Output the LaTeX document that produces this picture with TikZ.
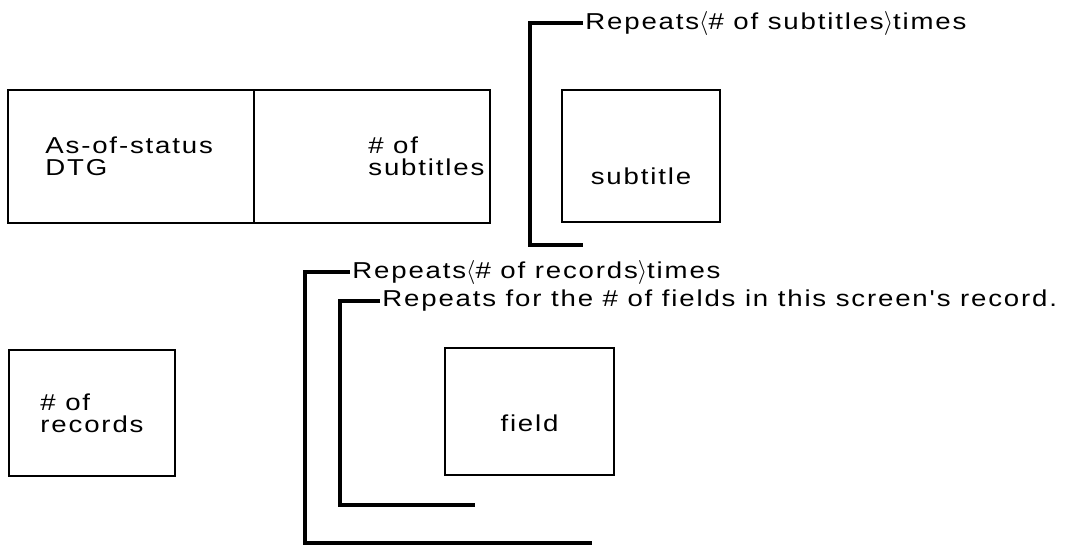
\documentclass[tikz,border=0pt]{standalone}
\usepackage{fontspec}
\usetikzlibrary{positioning}
\newfontfamily\repfont[FakeStretch=1.2,LetterSpace=8]{Liberation Sans}
\newcommand\repsize{\fontsize{11.5pt}{11pt}\selectfont}
\tikzset{
  cell/.style={draw,line width=1.3pt,inner sep=0pt,outer sep=0pt,anchor=north west},
  txt/.style={font=\repfont\repsize,align=left,inner sep=0pt},
  rep/.style={font=\repfont\repsize,inner sep=1pt,anchor=west},
  brk/.style={line width=1.6pt}
}
\begin{document}
\begin{tikzpicture}[x=0.5pt,y=-0.5pt]
\useasboundingbox[fill=white] (0,0) rectangle (1071,546);
\node[cell,minimum width=123pt,minimum height=66.5pt] (status) at (8,90) {};
\node[cell,minimum width=118pt,minimum height=66.5pt,right=0pt of status] (nsub) {};
\node[cell,minimum width=79pt,minimum height=66pt] (subt) at (562,90) {};
\node[cell,minimum width=83pt,minimum height=63pt] (recs) at (9,350) {};
\node[cell,minimum width=84.5pt,minimum height=63.5pt] (field) at (445,348) {};
\node[txt,anchor=west] (stattxt) at ([xshift=18.5pt]status.west) {As-of-status\\DTG};
\node[txt,anchor=west] (nsubtxt) at ([xshift=57pt]nsub.west) {\# of\\subtitles};
\node[txt] (subttxt) at ([yshift=-10pt]subt.center) {subtitle};
\node[txt] (recstxt) at (recs.center) {\# of\\records};
\node[txt] (fieldtxt) at ([yshift=-6pt]field.center) {field};
\node[rep] (subrep) at (583,23) {Repeats$\langle$\# of subtitles$\rangle$times};
\node[rep] (recrep) at (350,272) {Repeats$\langle$\# of records$\rangle$times};
\node[rep] (fldrep) at (380,301) {Repeats for the \# of fields in this screen's record.};
\coordinate (subend) at (583,245);
\coordinate (recend) at (592,543);
\coordinate (fldend) at (475,505);
\draw[brk] (subrep.west) -- (530,23) |- (subend);
\draw[brk] (recrep.west) -- (305,272) |- (recend);
\draw[brk] (fldrep.west) -- (340,301) |- (fldend);
\end{tikzpicture}
\end{document}
